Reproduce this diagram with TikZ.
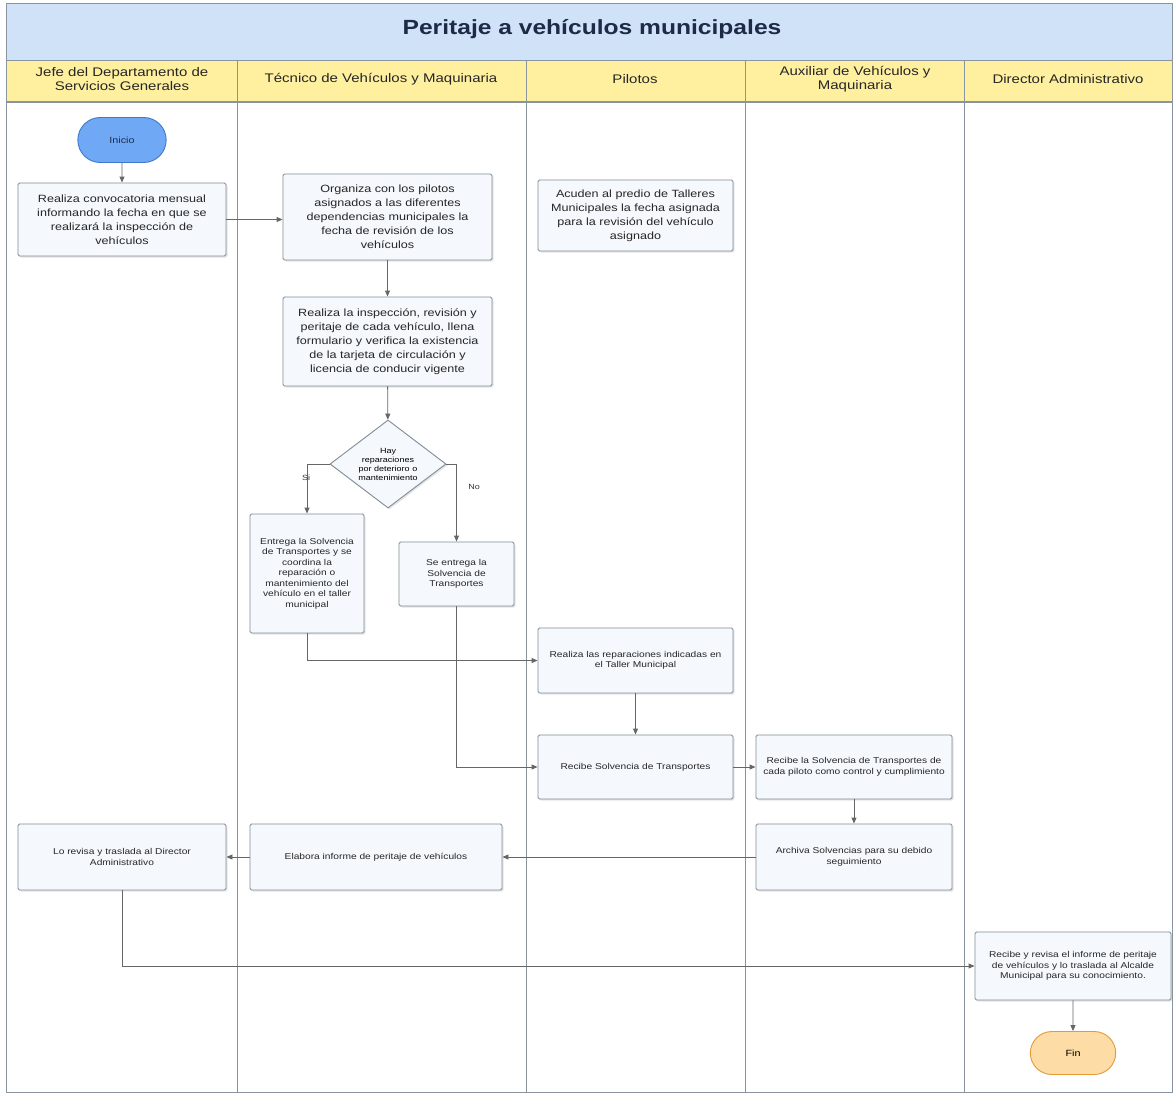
\documentclass[tikz,border=0pt]{standalone}
\usepackage{fontspec}
\setmainfont{Liberation Sans}[FakeStretch=1.2]
\usetikzlibrary{arrows.meta,shapes.geometric,shapes.misc,shadows}
\hyphenpenalty=10000
\exhyphenpenalty=10000
\definecolor{titlebg}{HTML}{CFE2F7}
\definecolor{headbg}{HTML}{FFF0A0}
\definecolor{lanegray}{HTML}{8A949E}
\definecolor{boxfill}{HTML}{F5F9FD}
\definecolor{boxdraw}{HTML}{7F8C96}
\definecolor{linec}{HTML}{666666}
\definecolor{startfill}{HTML}{6FA8F5}
\definecolor{startdraw}{HTML}{3D78C9}
\definecolor{endfill}{HTML}{FDDCA6}
\definecolor{enddraw}{HTML}{E39B3A}
\definecolor{titletext}{HTML}{1E2A48}
\tikzset{
  procbox/.style={draw=boxdraw, fill=boxfill, line width=0.9pt, rounded corners=1.5pt, align=center,
    drop shadow={opacity=0.2, shadow xshift=1.5pt, shadow yshift=-1.5pt}, inner sep=2pt, text=black!85},
  bigtxt/.style={font=\fontsize{10.5}{14}\selectfont},
  smalltxt/.style={font=\fontsize{8.5}{10.5}\selectfont},
  termnode/.style={rounded rectangle, line width=0.9pt, font=\fontsize{9}{11}\selectfont},
  flow/.style={draw=linec, line width=0.9pt, -{Triangle[length=6pt,width=5pt]}},
  lane/.style={draw=lanegray, line width=0.9pt},
  decision/.style={diamond, draw=boxdraw, fill=boxfill, line width=0.9pt, aspect=1.32, inner sep=0pt,
    minimum width=116pt, minimum height=88pt, align=center, font=\fontsize{7.5}{9}\selectfont,
    drop shadow={opacity=0.2, shadow xshift=1.5pt, shadow yshift=-1.5pt}},
  lbl/.style={font=\fontsize{7.5}{9}\selectfont, text=black!80},
  headtxt/.style={font=\fontsize{12.5}{14}\selectfont, align=center, text=black!85}
}
\begin{document}
\begin{tikzpicture}[x=1pt,y=-1pt]
\useasboundingbox (0,0) rectangle (1174,1092);
\fill[white] (0,0) rectangle (1174,1092);
% title band
\fill[titlebg] (6,3) rectangle (1172,60);
\node[font=\bfseries\fontsize{20.5}{24}\selectfont, text=titletext] (title) at (592,29) {Peritaje a vehículos municipales};
% header row
\fill[headbg] (6,60) rectangle (1172,102);
\draw[lane] (6,3) rectangle (1172,1092);
\draw[lane] (6,60) -- (1172,60);
\draw[draw=lanegray, line width=1.8pt] (6,102) -- (1172,102);
\foreach \xx in {237,526,745,964} \draw[lane] (\xx,60) -- (\xx,1092);
\node[headtxt] (h1) at (122,79) {Jefe del Departamento de\\Servicios Generales};
\node[headtxt] (h2) at (381,79) {Técnico de Vehículos y Maquinaria};
\node[headtxt] (h3) at (635,79) {Pilotos};
\node[headtxt] (h4) at (855,79) {Auxiliar de Vehículos y\\Maquinaria};
\node[headtxt] (h5) at (1068,79) {Director Administrativo};

% start
\node[termnode, draw=startdraw, fill=startfill, text=titletext, minimum width=95pt, minimum height=45pt] (inicio) at (122,140) {Inicio};

% boxes
\node[procbox, bigtxt, minimum width=208pt, minimum height=73pt] (b1) at (122,219.5)
 {Realiza convocatoria mensual\\informando la fecha en que se\\realizará la inspección de\\vehículos};
\node[procbox, bigtxt, minimum width=209pt, minimum height=86pt] (b2) at (387.5,217)
 {Organiza con los pilotos\\asignados a las diferentes\\dependencias municipales la\\fecha de revisión de los\\vehículos};
\node[procbox, bigtxt, minimum width=195pt, minimum height=71pt] (b3) at (635.5,215.5)
 {Acuden al predio de Talleres\\Municipales la fecha asignada\\para la revisión del vehículo\\asignado};
\node[procbox, bigtxt, minimum width=209pt, minimum height=89pt] (b4) at (387.5,341.5)
 {Realiza la inspección, revisión y\\peritaje de cada vehículo, llena\\formulario y verifica la existencia\\de la tarjeta de circulación y\\licencia de conducir vigente};
\node[decision] (d1) at (388,464) {Hay\\reparaciones\\por deterioro o\\mantenimiento};
\node[procbox, smalltxt, minimum width=114pt, minimum height=119pt] (b5) at (307,573.5)
 {Entrega la Solvencia\\de Transportes y se\\coordina la\\reparación o\\mantenimiento del\\vehículo en el taller\\municipal};
\node[procbox, smalltxt, minimum width=115pt, minimum height=64pt] (b6) at (456.5,574)
 {Se entrega la\\Solvencia de\\Transportes};
\node[procbox, smalltxt, minimum width=195pt, minimum height=65pt] (b7) at (635.5,660.5)
 {Realiza las reparaciones indicadas en\\el Taller Municipal};
\node[procbox, smalltxt, minimum width=195pt, minimum height=64pt] (b8) at (635.5,767)
 {Recibe Solvencia de Transportes};
\node[procbox, smalltxt, minimum width=196pt, minimum height=64pt] (b9) at (854,767)
 {Recibe la Solvencia de Transportes de\\cada piloto como control y cumplimiento};
\node[procbox, smalltxt, minimum width=196pt, minimum height=66pt] (b10) at (854,857)
 {Archiva Solvencias para su debido\\seguimiento};
\node[procbox, smalltxt, minimum width=252pt, minimum height=66pt] (b11) at (376,857)
 {Elabora informe de peritaje de vehículos};
\node[procbox, smalltxt, minimum width=208pt, minimum height=66pt] (b12) at (122,857)
 {Lo revisa y traslada al Director\\Administrativo};
\node[procbox, smalltxt, minimum width=196pt, minimum height=68pt] (b13) at (1073,966)
 {Recibe y revisa el informe de peritaje\\de vehículos y lo traslada al Alcalde\\Municipal para su conocimiento.};
\node[termnode, draw=enddraw, fill=endfill, minimum width=92pt, minimum height=43pt] (fin) at (1073,1053) {Fin};

% connectors
\draw[flow] (inicio) -- (b1);
\draw[flow] (b1.east) -- (b2.west |- b1.east);
\draw[flow] (b2) -- (b4);
\draw[flow] (b4) -- (d1);
\draw[flow] (d1.west) -| (b5.north);
\draw[flow] (d1.east) -| (b6.north);
\node[lbl] (lsi) at (306,478) {Si};
\node[lbl] (lno) at (474,487) {No};
\draw[flow] (b5.south) |- (b7.west);
\draw[flow] (b6.south) |- (b8.west);
\draw[flow] (b7) -- (b8);
\draw[flow] (b8) -- (b9);
\draw[flow] (b9) -- (b10);
\draw[flow] (b10) -- (b11);
\draw[flow] (b11) -- (b12);
\draw[flow] (b12.south) |- (b13.west);
\draw[flow] (b13) -- (fin);
\end{tikzpicture}
\end{document}
